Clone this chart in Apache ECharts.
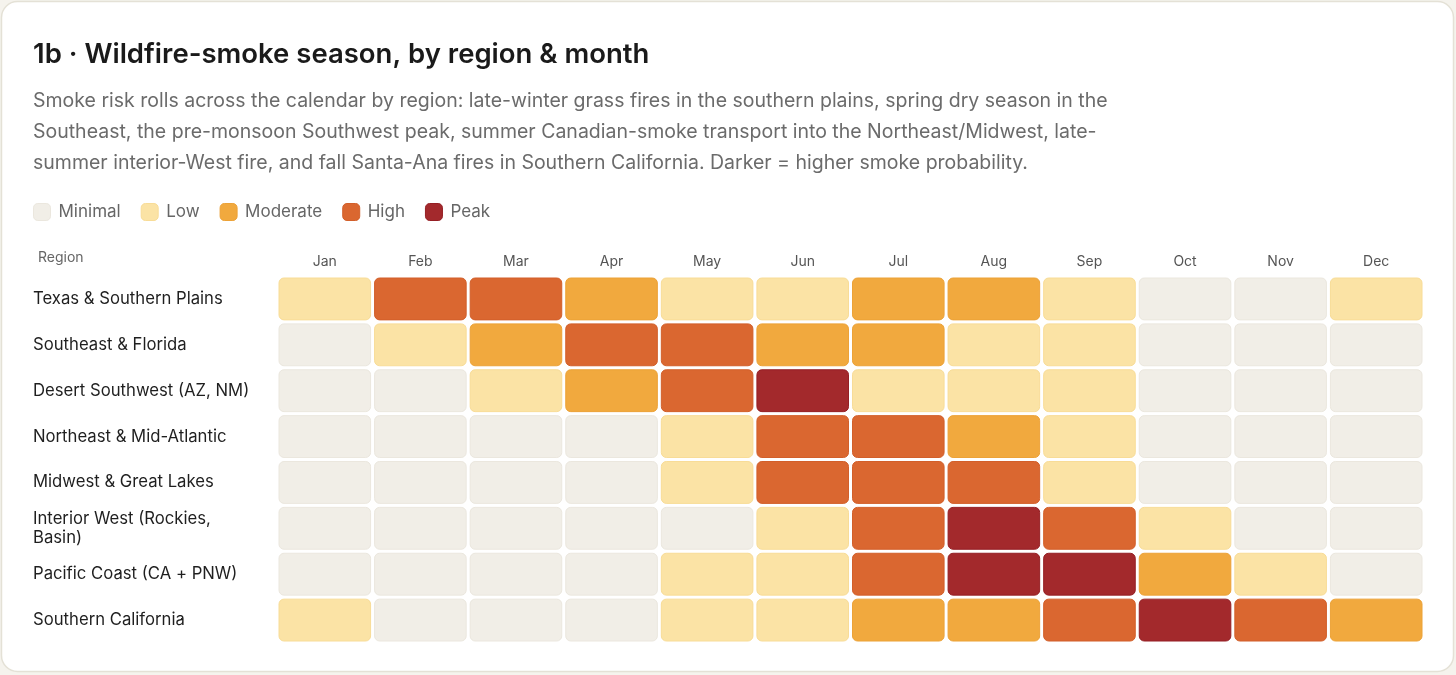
<!DOCTYPE html>
<html><head><meta charset="utf-8">
<script src="https://cdn.jsdelivr.net/npm/echarts@6/dist/echarts.min.js"></script>
<style>html,body{margin:0;padding:0;background:#f5f3ed;}#c{width:1456px;height:675px;}</style>
</head><body><div id="c"></div>
<script>
const months = ['Jan','Feb','Mar','Apr','May','Jun','Jul','Aug','Sep','Oct','Nov','Dec'];
const regions = ['Texas & Southern Plains','Southeast & Florida','Desert Southwest (AZ, NM)','Northeast & Mid-Atlantic','Midwest & Great Lakes','Interior West (Rockies, Basin)','Pacific Coast (CA + PNW)','Southern California'];
const levels = ['Minimal','Low','Moderate','High','Peak'];
const texas    = [1,3,3,2,1,1,2,2,1,0,0,1];
const southeast= [0,1,2,3,3,2,2,1,1,0,0,0];
const desertSW = [0,0,1,2,3,4,1,1,1,0,0,0];
const northeast= [0,0,0,0,1,3,3,2,1,0,0,0];
const midwest  = [0,0,0,0,1,3,3,3,1,0,0,0];
const interiorW= [0,0,0,0,0,1,3,4,3,1,0,0];
const pacific  = [0,0,0,0,1,1,3,4,4,2,1,0];
const socal    = [1,0,0,0,1,1,2,2,3,4,3,2];
const rows = [texas,southeast,desertSW,northeast,midwest,interiorW,pacific,socal];

const fills   = ['#f1eee7','#fbe3a5','#f1a93e','#da6730','#a3292c'];
const strokes = ['#ebe7de','#f8dc97','#eca237','#d25f2a','#951f24'];

const FONT = 'Inter, "Noto Sans", sans-serif';

const series = levels.map((name, li) => {
  const data = [];
  rows.forEach((r, ri) => r.forEach((v, mi) => { if (v === li) data.push([mi, ri, v]); }));
  return {
    type: 'custom', name, data,
    renderItem: (params, api) => {
      const c = api.coord([api.value(0), api.value(1)]);
      const s = api.size([1, 1]);
      const w = s[0] - 4, h = s[1] - 4;
      return { type: 'rect', shape: { x: c[0] - w / 2, y: c[1] - h / 2, width: w, height: h, r: 5 },
        style: { fill: fills[li], stroke: strokes[li], lineWidth: 1 } };
    }
  };
});

const chart = echarts.init(document.getElementById('c'));
chart.setOption({
  animation: false,
  textStyle: { fontFamily: FONT },
  graphic: [
    { type: 'rect', z: -10, shape: { x: 1.5, y: 1.5, width: 1452, height: 670, r: 16 },
      style: { fill: '#ffffff', stroke: '#e4e1d6', lineWidth: 1.5 } },
    { type: 'text', left: 38, top: 251, style: { text: 'Region', fill: '#666', font: '14px ' + FONT } }
  ],
  title: [
    { text: '1b · Wildfire-smoke season, by region & month', left: 28, top: 36,
      textStyle: { fontSize: 27.5, fontWeight: 600, color: '#1a1a1a', fontFamily: FONT } },
    { text: 'Smoke risk rolls across the calendar by region: late-winter grass fires in the southern plains, spring dry season in the\nSoutheast, the pre-monsoon Southwest peak, summer Canadian-smoke transport into the Northeast/Midwest, late-\nsummer interior-West fire, and fall Santa-Ana fires in Southern California. Darker = higher smoke probability.',
      left: 28, top: 81,
      textStyle: { fontSize: 19.5, fontWeight: 400, color: '#6b6b6b', lineHeight: 31, fontFamily: FONT } }
  ],
  legend: {
    left: 33, top: 203, padding: 0, icon: 'roundRect', itemWidth: 17, itemHeight: 17, itemGap: 20,
    textStyle: { fontSize: 17, color: '#666', padding: [0, 0, 0, 3] },
    data: levels.map((n, i) => ({ name: n, itemStyle: { color: fills[i], borderColor: strokes[i], borderWidth: 1 } }))
  },
  grid: { left: 277, right: 32, top: 276, bottom: 32 },
  xAxis: {
    type: 'category', data: months, position: 'top',
    axisLine: { show: false }, axisTick: { show: false }, splitLine: { show: false },
    axisLabel: { color: '#555', fontSize: 14, margin: 7 }
  },
  yAxis: {
    type: 'category', data: regions, inverse: true,
    axisLine: { show: false }, axisTick: { show: false }, splitLine: { show: false },
    axisLabel: { color: '#1f1f1f', fontSize: 16.7, align: 'left', margin: 244, width: 222, overflow: 'break', lineHeight: 19 }
  },
  series
});
</script></body></html>
